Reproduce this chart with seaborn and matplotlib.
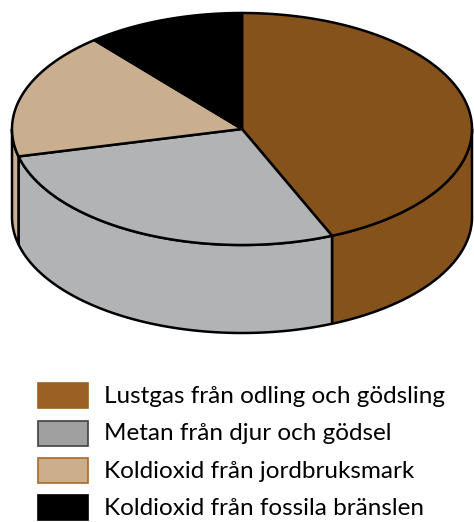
import numpy as np
import matplotlib
matplotlib.use("Agg")
import matplotlib.pyplot as plt
from matplotlib.patches import Polygon, Rectangle
import seaborn as sns

# Data
categories = ["Lustgas från odling och gödsling",
              "Metan från djur och gödsel",
              "Koldioxid från jordbruksmark",
              "Koldioxid från fossila bränslen"]
values = [43.6, 27.6, 17.7, 11.1]
pie_colors = ["#86521B", "#B2B3B5", "#C9AF8F", "#000000"]
legend_colors = ["#9B6124", "#A0A0A0", "#CCAE8A", "#000000"]
legend_edges = ["#9B6124", "#404040", "#A8692C", "#000000"]

sns.set_theme(style="white")
plt.rcParams['font.family'] = ['Lato', 'DejaVu Sans']

W, H = 474, 522
fig = plt.figure(figsize=(W / 100, H / 100), dpi=100)
ax = fig.add_axes([0, 0, 1, 1])
ax.set_xlim(0, W)
ax.set_ylim(H, 0)
ax.axis("off")

cx, cy, rx, ry, depth = 242, 129, 230, 116, 88

def pt(t, dy=0.0):
    return cx + rx * np.cos(t), cy - ry * np.sin(t) + dy

total = sum(values)
angles = [np.pi / 2]
for v in values:
    angles.append(angles[-1] - v / total * 2 * np.pi)

lw = 1.8
# side faces (front half visible: t in [-pi, 0])
for i, v in enumerate(values):
    a0, a1 = angles[i], angles[i + 1]  # a0 > a1 (clockwise)
    lo, hi = max(a1, -np.pi), min(a0, 0.0)
    if hi > lo:
        ts = np.linspace(hi, lo, 80)
        top = [pt(t) for t in ts]
        bot = [pt(t, depth) for t in ts[::-1]]
        ax.add_patch(Polygon(top + bot, closed=True, facecolor=pie_colors[i],
                             edgecolor="black", linewidth=lw, joinstyle="round", zorder=2))

# top faces
for i, v in enumerate(values):
    a0, a1 = angles[i], angles[i + 1]
    ts = np.linspace(a0, a1, 200)
    verts = [(cx, cy)] + [pt(t) for t in ts]
    ax.add_patch(Polygon(verts, closed=True, facecolor=pie_colors[i],
                         edgecolor="black", linewidth=lw, joinstyle="round", zorder=3))

# legend
row_y = [395.5, 433, 470.5, 507.5]
for i, lab in enumerate(categories):
    ax.add_patch(Rectangle((38, row_y[i] - 12.5), 50, 25, facecolor=legend_colors[i],
                           edgecolor=legend_edges[i], linewidth=1.2, zorder=3))
    ax.text(104, row_y[i] + 1, lab, fontsize=17.5, va="center", ha="left", color="black")

fig.savefig("out.png", dpi=100)
